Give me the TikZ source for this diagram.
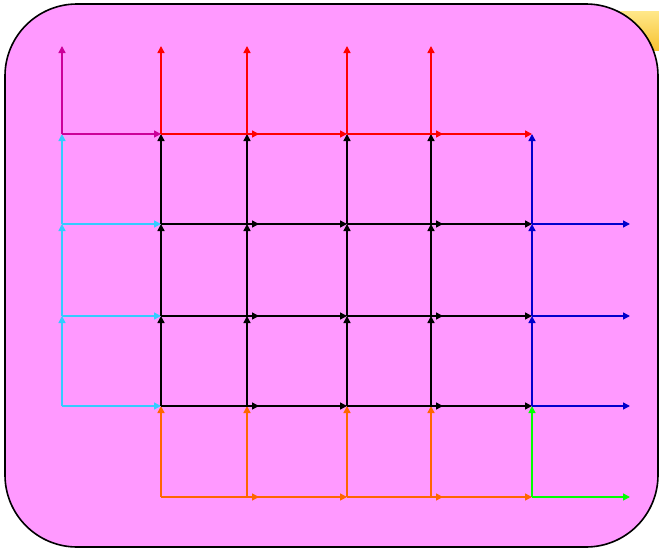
\documentclass[tikz,border=0pt]{standalone}
\usetikzlibrary{arrows.meta}
\definecolor{bgpink}{HTML}{FF99FF}
\definecolor{cmag}{HTML}{CC0099}
\definecolor{cred}{HTML}{FF0000}
\definecolor{ccyan}{HTML}{33CCFF}
\definecolor{cblue}{HTML}{0000CC}
\definecolor{corange}{HTML}{FF6600}
\definecolor{cgreen}{HTML}{00FF00}
\definecolor{ylight}{HTML}{FFE88A}
\definecolor{ydark}{HTML}{F7C230}
\begin{document}
\begin{tikzpicture}[x=1pt,y=1pt,
  link/.style={line width=1.5pt,-{Triangle[length=7pt,width=7pt]}},
  board/.style={fill=bgpink,draw=black,line width=1.6pt,rounded corners=72pt}]
\useasboundingbox (0,0) rectangle (659,-549);
\clip (0,0) rectangle (659,-549);
% yellow note behind
\shade[top color=ylight,bottom color=ydark] (590,-11) rectangle (670,-50);
\draw[board] (5,-4) rectangle (658,-547);
% coordinates
\foreach \n/\x in {0/62,1/161,2/247,3/347,4/431,5/532,6/630,b/259,d/443}{
  \foreach \m/\y in {0/46,1/134,2/224,3/316,4/406,5/497}{
    \coordinate (p\n\m) at (\x,-\y);
  }
}
% row 5 (bottom)
\foreach \a/\b in {1/b,2/3,3/d,4/5}{\draw[link,corange] (p\a5) -- (p\b5);}
\draw[link,cgreen] (p55) -- (p65);
\foreach \c in {1,2,3,4}{\draw[link,corange] (p\c5) -- (p\c4);}
\draw[link,cgreen] (p55) -- (p54);
% rows 2..4
\foreach \r/\u in {4/3,3/2,2/1}{
  \draw[link,ccyan] (p0\r) -- (p0\u);
  \draw[link,ccyan] (p0\r) -- (p1\r);
  \foreach \a/\b in {1/b,2/3,3/d,4/5}{\draw[link,black] (p\a\r) -- (p\b\r);}
  \foreach \c in {1,2,3,4}{\draw[link,black] (p\c\r) -- (p\c\u);}
  \draw[link,cblue] (p5\r) -- (p6\r);
  \draw[link,cblue] (p5\r) -- (p5\u);
}
% row 1
\draw[link,cmag] (p01) -- (p00);
\draw[link,cmag] (p01) -- (p11);
\foreach \a/\b in {1/b,2/3,3/d,4/5}{\draw[link,cred] (p\a1) -- (p\b1);}
\foreach \c in {1,2,3,4}{\draw[link,cred] (p\c1) -- (p\c0);}
\end{tikzpicture}
\end{document}
